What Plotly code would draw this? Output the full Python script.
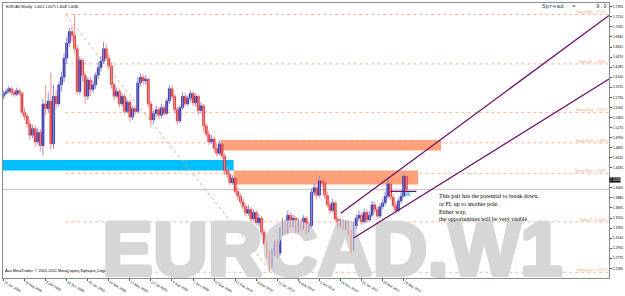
import plotly.graph_objects as go

# ---------------- data (weekly EURCAD candles) ----------------
tick_labels = ["15 Jun 2008", "10 Aug 2008", "5 Oct 2008", "30 Nov 2008", "25 Jan 2009",
               "22 Mar 2009", "17 May 2009", "12 Jul 2009", "6 Sep 2009", "1 Nov 2009",
               "27 Dec 2009", "21 Feb 2010", "18 Apr 2010", "13 Jun 2010", "8 Aug 2010",
               "3 Oct 2010", "28 Nov 2010", "23 Jan 2011", "20 Mar 2011", "15 May 2011"]

opens = [1.5750, 1.5803, 1.5838, 1.5890, 1.5820, 1.5785, 1.5855, 1.5803, 1.5453, 1.5383,
         1.5243, 1.5033, 1.5155, 1.4910, 1.5085, 1.4840, 1.5610, 1.5523, 1.5663, 1.4875,
         1.5750, 1.5610, 1.5960, 1.6100, 1.6450, 1.6730, 1.6940, 1.6870, 1.6625, 1.5838,
         1.6415, 1.6135, 1.5750, 1.6048, 1.5873, 1.5960, 1.6135, 1.6275, 1.6398, 1.6625,
         1.6450, 1.6310, 1.5960, 1.5750, 1.5838, 1.5610, 1.5750, 1.5470, 1.5645, 1.5365,
         1.5523, 1.5470, 1.5995, 1.6100, 1.6030, 1.6065, 1.5610, 1.5313, 1.5435, 1.5505,
         1.5400, 1.5540, 1.5435, 1.5663, 1.5890, 1.5750, 1.5505, 1.5295, 1.5540, 1.5750,
         1.5610, 1.5715, 1.5803, 1.5628, 1.5750, 1.5488, 1.5575, 1.5208, 1.5050, 1.4910,
         1.4963, 1.4788, 1.4700, 1.4875, 1.4648, 1.4385, 1.4315, 1.4158, 1.4245, 1.4000,
         1.3913, 1.3808, 1.3720, 1.3598, 1.3668, 1.3493, 1.3615, 1.3423, 1.3510, 1.3248,
         1.3038, 1.2845, 1.2670, 1.2898, 1.3038, 1.2863, 1.3230, 1.3440, 1.3265, 1.3563,
         1.3388, 1.3510, 1.3300, 1.3440, 1.3335, 1.3510, 1.3300, 1.3370, 1.3983, 1.4070,
         1.3930, 1.4193, 1.4158, 1.3930, 1.3755, 1.3650, 1.3790, 1.3493, 1.3388, 1.3458,
         1.3335, 1.3423, 1.3248, 1.2985, 1.3370, 1.3510, 1.3563, 1.3440, 1.3615, 1.3475,
         1.3563, 1.3755, 1.3668, 1.3545, 1.3720, 1.3790, 1.3913, 1.4140, 1.3895, 1.3738,
         1.3650, 1.3825, 1.3913, 1.4280]
highs = [1.5855, 1.5890, 1.5943, 1.5925, 1.5873, 1.5908, 1.5890, 1.5838, 1.5540, 1.5435,
         1.5313, 1.5225, 1.5225, 1.5173, 1.5138, 1.5698, 1.5960, 1.5820, 1.6188, 1.5960,
         1.5855, 1.6013, 1.6205, 1.6538, 1.6835, 1.7010, 1.7045, 1.7255, 1.6695, 1.6485,
         1.6450, 1.6188, 1.6100, 1.6100, 1.6030, 1.6188, 1.6380, 1.6485, 1.6748, 1.6713,
         1.6538, 1.6380, 1.6013, 1.5908, 1.5890, 1.5803, 1.5803, 1.5698, 1.5680, 1.5575,
         1.5575, 1.6100, 1.6170, 1.6153, 1.6135, 1.6100, 1.5663, 1.5488, 1.5575, 1.5558,
         1.5610, 1.5593, 1.5715, 1.5960, 1.5943, 1.5785, 1.5558, 1.5593, 1.5820, 1.5803,
         1.5768, 1.5855, 1.5838, 1.5803, 1.5785, 1.5645, 1.5610, 1.5260, 1.5120, 1.5033,
         1.5015, 1.4875, 1.4945, 1.4910, 1.4700, 1.4455, 1.4385, 1.4298, 1.4280, 1.4070,
         1.3965, 1.3878, 1.3773, 1.3755, 1.3720, 1.3668, 1.3650, 1.3580, 1.3545, 1.3300,
         1.3090, 1.2915, 1.2950, 1.3090, 1.3125, 1.3335, 1.3510, 1.3493, 1.3650, 1.3615,
         1.3580, 1.3545, 1.3510, 1.3493, 1.3563, 1.3545, 1.3440, 1.4053, 1.4140, 1.4123,
         1.4280, 1.4298, 1.4228, 1.4000, 1.3825, 1.3860, 1.3825, 1.3545, 1.3510, 1.3493,
         1.3475, 1.3458, 1.3300, 1.3440, 1.3580, 1.3650, 1.3615, 1.3685, 1.3668, 1.3633,
         1.3825, 1.3808, 1.3720, 1.3773, 1.3860, 1.4000, 1.4245, 1.4175, 1.3948, 1.3808,
         1.3878, 1.3983, 1.4333, 1.4315]
lows = [1.5698, 1.5768, 1.5803, 1.5768, 1.5733, 1.5750, 1.5750, 1.5400, 1.5313, 1.5173,
        1.4945, 1.4980, 1.4823, 1.4858, 1.4735, 1.4665, 1.5400, 1.5435, 1.4770, 1.4788,
        1.5523, 1.5558, 1.5838, 1.6013, 1.6345, 1.6660, 1.6765, 1.6538, 1.5785, 1.5785,
        1.6013, 1.5610, 1.5680, 1.5750, 1.5803, 1.5890, 1.6065, 1.6205, 1.6345, 1.6398,
        1.6240, 1.5890, 1.5680, 1.5715, 1.5540, 1.5558, 1.5418, 1.5435, 1.5278, 1.5313,
        1.5400, 1.5435, 1.5925, 1.5960, 1.5960, 1.5540, 1.5190, 1.5260, 1.5365, 1.5330,
        1.5348, 1.5383, 1.5400, 1.5610, 1.5698, 1.5435, 1.5225, 1.5260, 1.5505, 1.5558,
        1.5575, 1.5663, 1.5575, 1.5558, 1.5400, 1.5435, 1.5103, 1.4998, 1.4858, 1.4875,
        1.4718, 1.4648, 1.4665, 1.4595, 1.4298, 1.4245, 1.4105, 1.4123, 1.3948, 1.3843,
        1.3755, 1.3650, 1.3545, 1.3545, 1.3423, 1.3458, 1.3370, 1.3353, 1.3195, 1.2985,
        1.2775, 1.2513, 1.2600, 1.2810, 1.2775, 1.2810, 1.3195, 1.3213, 1.3213, 1.3335,
        1.3335, 1.3230, 1.3248, 1.3283, 1.3300, 1.3213, 1.3248, 1.3335, 1.3913, 1.3860,
        1.3895, 1.4070, 1.3860, 1.3703, 1.3580, 1.3598, 1.3440, 1.3318, 1.3335, 1.3283,
        1.3283, 1.3178, 1.2863, 1.2915, 1.3300, 1.3458, 1.3388, 1.3405, 1.3423, 1.3440,
        1.3528, 1.3615, 1.3493, 1.3510, 1.3668, 1.3738, 1.3860, 1.3843, 1.3685, 1.3598,
        1.3615, 1.3773, 1.3878, 1.4000]
closes = [1.5803, 1.5838, 1.5890, 1.5820, 1.5785, 1.5855, 1.5803, 1.5453, 1.5383, 1.5243,
          1.5033, 1.5155, 1.4910, 1.5085, 1.4840, 1.5610, 1.5523, 1.5663, 1.4875, 1.5750,
          1.5610, 1.5960, 1.6100, 1.6450, 1.6730, 1.6940, 1.6870, 1.6625, 1.5838, 1.6415,
          1.6135, 1.5750, 1.6048, 1.5873, 1.5960, 1.6135, 1.6275, 1.6398, 1.6625, 1.6450,
          1.6310, 1.5960, 1.5750, 1.5838, 1.5610, 1.5750, 1.5470, 1.5645, 1.5365, 1.5523,
          1.5470, 1.5995, 1.6100, 1.6030, 1.6065, 1.5610, 1.5313, 1.5435, 1.5505, 1.5400,
          1.5540, 1.5435, 1.5663, 1.5890, 1.5750, 1.5505, 1.5295, 1.5540, 1.5750, 1.5610,
          1.5715, 1.5803, 1.5628, 1.5750, 1.5488, 1.5575, 1.5208, 1.5050, 1.4910, 1.4963,
          1.4788, 1.4700, 1.4875, 1.4648, 1.4385, 1.4315, 1.4158, 1.4245, 1.4000, 1.3913,
          1.3808, 1.3720, 1.3598, 1.3668, 1.3493, 1.3615, 1.3423, 1.3510, 1.3248, 1.3038,
          1.2845, 1.2670, 1.2898, 1.3038, 1.2863, 1.3230, 1.3440, 1.3265, 1.3563, 1.3388,
          1.3510, 1.3300, 1.3440, 1.3335, 1.3510, 1.3300, 1.3370, 1.3983, 1.4070, 1.3930,
          1.4193, 1.4158, 1.3930, 1.3755, 1.3650, 1.3790, 1.3493, 1.3388, 1.3458, 1.3335,
          1.3423, 1.3248, 1.2985, 1.3370, 1.3510, 1.3563, 1.3440, 1.3615, 1.3475, 1.3563,
          1.3755, 1.3668, 1.3545, 1.3720, 1.3790, 1.3913, 1.4140, 1.3895, 1.3738, 1.3650,
          1.3825, 1.3913, 1.4280, 1.4036]

price_ticks = [1.7395, 1.7210, 1.7025, 1.6840, 1.6655, 1.6470, 1.6285, 1.6100, 1.5915,
               1.5730, 1.5545, 1.5360, 1.5175, 1.4990, 1.4805, 1.4620, 1.4435, 1.4065,
               1.3880, 1.3695, 1.3510, 1.3325, 1.3140, 1.2955, 1.2770, 1.2585, 1.2400]

# swing (fibonacci-like) levels drawn from the swing-high bar
swing_names = ["Swing High - 1.7255", "Swing 81 - 1.6345", "Swing Long - 1.5453",
               "Swing Pivot - 1.4893", "Swing Short - 1.4333", "Swing 21 - 1.3440",
               "Swing Low - 1.2513"]
swing_prices = [1.7255, 1.6345, 1.5453, 1.4893, 1.4333, 1.3440, 1.2513]
swing_start_bar = 23.5
swing_end_bar = 230

# diagonal swing line (swing high -> swing low)
diag_bars = [23.6, 101.7]
diag_prices = [1.7255, 1.2513]

# zones (rectangles): bar start, bar end, price bottom, price top
zone_x0 = [-0.2, 82.5, 87.4, 151.5]
zone_x1 = [87.4, 166.2, 157.5, 154.5]
zone_y0 = [1.4385, 1.4753, 1.4125, 1.3913]
zone_y1 = [1.4578, 1.4945, 1.4385, 1.3983]
zone_colors = ["#00BFFF", "#FFA07A", "#FFA07A", "#8CC8F2"]

# channel trend lines (bar, price) pairs
chan_upper_bars = [128.1, 230]
chan_upper_prices = [1.3598, 1.7236]
chan_lower_bars = [133.0, 230]
chan_lower_prices = [1.3143, 1.6067]
hseg_bars = [147.0, 156.8]
hseg_price = 1.4000

comment_lines = ["This pair has the potential to break down,",
                 "or FL up to another pole.",
                 "Either way,",
                 "the opportunities will be very visible"]

# ---------------- figure ----------------
n = len(closes)
idx = list(range(n))
up = [c >= o for o, c in zip(opens, closes)]

BULL, BEAR = "#1212A0", "#D81818"
BULL_W, BEAR_W = "#8A8ACF", "#EE8E8E"
WM = "#D6D6D6"
wm_shadow = ", ".join(f"{dx}px {dy}px 0 {WM}" for dx, dy in
                      ((2, 0), (-2, 0), (0, 2), (0, -2), (1.5, 1.5), (-1.5, 1.5),
                       (1.5, -1.5), (-1.5, -1.5)))

fig = go.Figure()

# watermark (behind candles)
fig.add_trace(go.Scatter(
    x=[37.5], y=[1.2810], mode="text", text=["EURCAD,W1"],
    textposition="middle right",
    textfont=dict(family="Liberation Sans, Arial", size=76, color=WM, weight="bold",
                  shadow=wm_shadow),
    hoverinfo="skip"))

# wicks
for flag, col in ((True, BULL_W), (False, BEAR_W)):
    wx, wy = [], []
    for i in idx:
        if up[i] == flag:
            wx += [i, i, None]
            wy += [lows[i], highs[i], None]
    fig.add_trace(go.Scatter(x=wx, y=wy, mode="lines",
                             line=dict(color=col, width=1), hoverinfo="skip"))

# bodies
base = [min(o, c) for o, c in zip(opens, closes)]
height = [max(abs(c - o), 0.0004) for o, c in zip(opens, closes)]
cols = [BULL if u else BEAR for u in up]
fig.add_trace(go.Bar(x=idx, y=height, base=base, width=0.85,
                     marker=dict(color=cols, line=dict(width=0.4, color=cols)),
                     hoverinfo="skip"))

shapes = []
for x0, x1, y0, y1, c in zip(zone_x0, zone_x1, zone_y0, zone_y1, zone_colors):
    shapes.append(dict(type="rect", xref="x", yref="y", x0=x0, x1=x1, y0=y0, y1=y1,
                       fillcolor=c, line=dict(width=0), layer="below"))
for p in swing_prices:
    shapes.append(dict(type="line", xref="x", yref="y", x0=swing_start_bar, x1=swing_end_bar,
                       y0=p, y1=p, line=dict(color="#F3B596", width=1, dash="dot"),
                       layer="below"))
shapes.append(dict(type="line", xref="x", yref="y", x0=diag_bars[0], x1=diag_bars[1],
                   y0=diag_prices[0], y1=diag_prices[1],
                   line=dict(color="#EBA58A", width=1, dash="dot"), layer="below"))
# current price line
shapes.append(dict(type="line", xref="paper", yref="y", x0=0, x1=1,
                   y0=closes[-1], y1=closes[-1], line=dict(color="#CFCFCF", width=1.5),
                   layer="below"))
# channel
for bx, py in ((chan_upper_bars, chan_upper_prices), (chan_lower_bars, chan_lower_prices)):
    shapes.append(dict(type="line", xref="x", yref="y", x0=bx[0], x1=bx[1], y0=py[0], y1=py[1],
                       line=dict(color="#6E106E", width=1.3)))
shapes.append(dict(type="line", xref="x", yref="y", x0=hseg_bars[0], x1=hseg_bars[1],
                   y0=hseg_price, y1=hseg_price, line=dict(color="#6E106E", width=1.3)))

annotations = []
for name, p in zip(swing_names, swing_prices):
    annotations.append(dict(x=229.6, y=p, xref="x", yref="y", text=name, showarrow=False,
                            xanchor="right", yanchor="middle", yshift=2,
                            font=dict(family="Liberation Sans", size=3.3, color="#EE9F7C")))
annotations.append(dict(x=0.7164, y=0.318, xref="paper", yref="paper",
                        text="<br>".join(comment_lines), showarrow=False, align="left",
                        xanchor="left", yanchor="top",
                        font=dict(family="Liberation Serif", size=6, color="#000000")))
annotations.append(dict(x=0.002, y=1.0, xref="paper", yref="paper",
                        text="EURCAD,Weekly  1.4011 1.4075 1.4008 1.4036", showarrow=False,
                        xanchor="left", yanchor="top",
                        font=dict(family="Liberation Sans", size=3.4, color="#000000")))
annotations.append(dict(x=0.0, y=0.028, xref="paper", yref="paper",
                        text="Ava MetaTrader, \u00a9 2001-2011 MetaQuotes Software Corp.",
                        showarrow=False, xanchor="left", yanchor="middle",
                        font=dict(family="Liberation Sans", size=3.9, color="#000000")))
for txt, xp, xa in (("Spread", 0.8869, "left"), ("=", 0.936, "left"), ("9.0", 1.0, "right")):
    annotations.append(dict(x=xp, y=0.987, xref="paper", yref="paper", text=txt,
                            showarrow=False, xanchor=xa, yanchor="middle",
                            font=dict(family="Liberation Mono", size=6, color="#4A4A4A")))
annotations.append(dict(x=1.0, y=0.3547, xref="paper", yref="paper", text="1.4036",
                        showarrow=False, xanchor="left", yanchor="middle", bgcolor="#000000",
                        borderpad=0, font=dict(family="Liberation Sans", size=3.4,
                                               color="#FFFFFF")))

fig.update_layout(
    width=625, height=296,
    margin=dict(l=2, r=13, t=2, b=5),
    paper_bgcolor="white", plot_bgcolor="white",
    showlegend=False, barmode="overlay",
    shapes=shapes, annotations=annotations,
    xaxis=dict(range=[-0.19, 230.0], tickvals=list(range(0, n, 8)), ticktext=tick_labels,
               ticks="outside", ticklen=2, tickcolor="#555555", ticklabelposition="outside right",
               tickfont=dict(family="Liberation Sans", size=3.4, color="#000000"),
               showgrid=False, zeroline=False, showline=True, mirror=True,
               linecolor="#8A8A8A", linewidth=1),
    yaxis=dict(range=[1.24075, 1.7465], side="right", tickvals=price_ticks,
               tickformat=".4f", ticks="outside", ticklen=2, tickcolor="#555555",
               tickfont=dict(family="Liberation Sans", size=3.4, color="#000000"),
               showgrid=False, zeroline=False, showline=True, mirror=True,
               linecolor="#8A8A8A", linewidth=1),
)

fig.write_html("out.html", config={"displayModeBar": False})
